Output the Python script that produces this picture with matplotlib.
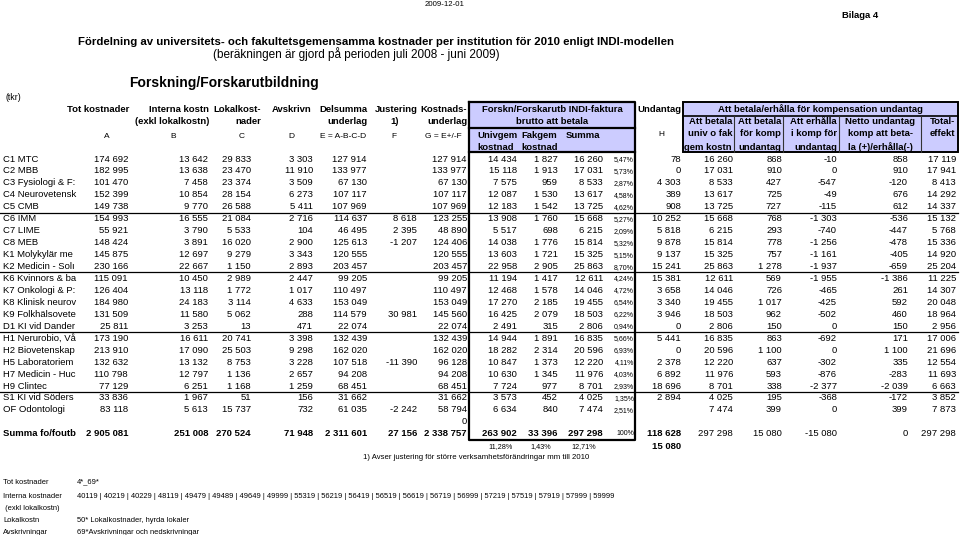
import numpy as np
import matplotlib
matplotlib.use('Agg')
import matplotlib.pyplot as plt
from matplotlib.patches import Rectangle

plt.rcParams['font.family'] = ['Liberation Sans', 'DejaVu Sans']

# ---- data ----
# institution names, cut off as the narrow column shows them
names = ['C1 MTC', 'C2 MBB', 'C3 Fysiologi & F:', 'C4 Neurovetensk', 'C5 CMB',
         'C6 IMM', 'C7 LIME', 'C8 MEB', 'K1 Molykylär me', 'K2 Medicin - Solı',
         'K6 Kvinnors & ba', 'K7 Onkologi & P:', 'K8 Klinisk neurov', 'K9 Folkhälsovete',
         'D1 KI vid Dander', 'H1 Nerurobio, Vå', 'H2 Biovetenskap', 'H5 Laboratoriem',
         'H7 Medicin - Huc', 'H9 Clintec', 'S1 KI vid Söders', 'OF Odontologi']
tot = [174692, 182995, 101470, 152399, 149738, 154993, 55921, 148424, 145875, 230166,
       115091, 126404, 184980, 131509, 25811, 173190, 213910, 132632, 110798, 77129, 33836, 83118]
interna = [13642, 13638, 7458, 10854, 9770, 16555, 3790, 3891, 12697, 22667,
           10450, 13118, 24183, 11580, 3253, 16611, 17090, 13132, 12797, 6251, 1967, 5613]
lokal = [29833, 23470, 23374, 28154, 26588, 21084, 5533, 16020, 9279, 1150,
         2989, 1772, 3114, 5062, 13, 20741, 25503, 8753, 1136, 1168, 51, 15737]
avskr = [3303, 11910, 3509, 6273, 5411, 2716, 104, 2900, 3343, 2893,
         2447, 1017, 4633, 288, 471, 3398, 9298, 3228, 2657, 1259, 156, 732]
delsumma = [127914, 133977, 67130, 107117, 107969, 114637, 46495, 125613, 120555, 203457,
            99205, 110497, 153049, 114579, 22074, 132439, 162020, 107518, 94208, 68451, 31662, 61035]
justering = [None, None, None, None, None, 8618, 2395, -1207, None, None,
             None, None, None, 30981, None, None, None, -11390, None, None, None, -2242]
underlag = [127914, 133977, 67130, 107117, 107969, 123255, 48890, 124406, 120555, 203457,
            99205, 110497, 153049, 145560, 22074, 132439, 162020, 96128, 94208, 68451, 31662, 58794]
univgem = [14434, 15118, 7575, 12087, 12183, 13908, 5517, 14038, 13603, 22958,
           11194, 12468, 17270, 16425, 2491, 14944, 18282, 10847, 10630, 7724, 3573, 6634]
fakgem = [1827, 1913, 959, 1530, 1542, 1760, 698, 1776, 1721, 2905,
          1417, 1578, 2185, 2079, 315, 1891, 2314, 1373, 1345, 977, 452, 840]
summa = [16260, 17031, 8533, 13617, 13725, 15668, 6215, 15814, 15325, 25863,
         12611, 14046, 19455, 18503, 2806, 16835, 20596, 12220, 11976, 8701, 4025, 7474]
andel = [5.47, 5.73, 2.87, 4.58, 4.62, 5.27, 2.09, 5.32, 5.15, 8.70,
         4.24, 4.72, 6.54, 6.22, 0.94, 5.66, 6.93, 4.11, 4.03, 2.93, 1.35, 2.51]
undantag = [78, 0, 4303, 389, 908, 10252, 5818, 9878, 9137, 15241,
            15381, 3658, 3340, 3946, 0, 5441, 0, 2378, 6892, 18696, 2894, None]
bet_univ = summa
bet_komp = [868, 910, 427, 725, 727, 768, 293, 778, 757, 1278,
            569, 726, 1017, 962, 150, 863, 1100, 637, 593, 338, 195, 399]
erhalla = [-10, 0, -547, -49, -115, -1303, -740, -1256, -1161, -1937,
           -1955, -465, -425, -502, 0, -692, 0, -302, -876, -2377, -368, 0]
netto = [858, 910, -120, 676, 612, -536, -447, -478, -405, -659,
         -1386, 261, 592, 460, 150, 171, 1100, 335, -283, -2039, -172, 399]
total = [17119, 17941, 8413, 14292, 14337, 15132, 5768, 15336, 14920, 25204,
         11225, 14307, 20048, 18964, 2956, 17006, 21696, 12554, 11693, 6663, 3852, 7873]

summa_rad = [2905081, 251008, 270524, 71948, 2311601, 27156, 2338757, 263902, 33396, 297298]
summa_rad_h = [118628, 297298, 15080, -15080, 0, 297298]
andel_tot = [11.28, 1.43, 12.71]
undantag_komp = 15080

legend_labels = ['Tot kostnader', 'Interna kostnader', ' (exkl lokalkostn)', 'Lokalkostn', 'Avskrivningar']
legend_texts = ['4*_69*',
                '40119 | 40219 | 40229 | 48119 | 49479 | 49489 | 49649 | 49999 | 55319 | 56219 | '
                '56419 | 56519 | 56619 | 56719 | 56999 | 57219 | 57519 | 57919 | 57999 | 59999',
                '', '50* Lokalkostnader, hyrda lokaler', '69*Avskrivningar och nedskrivningar']


def fmt(v):
    if v is None:
        return ''
    return '{:,}'.format(v).replace(',', ' ')


def pct(v):
    return ('%.2f%%' % v).replace('.', ',')


fig = plt.figure(figsize=(9.6, 5.35), dpi=100)
ax = fig.add_axes([0, 0, 1, 1])
ax.set_xlim(0, 960)
ax.set_ylim(535, 0)
ax.axis('off')

FS = 6.8
LAV = '#ccccff'


def txt(x, y, s, ha='left', size=FS, bold=False, color='black'):
    return ax.text(x, y, s, ha=ha, va='center', fontsize=size, color=color,
                   fontweight='bold' if bold else 'normal')


# titles
txt(445, 5, '2009-12-01', ha='center', size=5.6)
txt(860, 15, 'Bilaga 4', ha='center', size=6.8, bold=True)
txt(376, 42, 'Fördelning av universitets- och fakultetsgemensamma kostnader per institution '
    'för 2010 enligt INDI-modellen', ha='center', size=8.2, bold=True)
txt(356, 54, '(beräkningen är gjord på perioden juli 2008 - juni 2009)', ha='center', size=8.5)
txt(224, 83, 'Forskning/Forskarutbildning', ha='center', size=10, bold=True)
txt(6, 98, '(tkr)', size=6.3)

# left header
y1, y2, y3 = 109, 122, 136
for x, a, b in [(129, 'Tot kostnader', ''), (209, 'Interna kostn', '(exkl lokalkostn)'),
                (261, 'Lokalkost-', 'nader'), (312, 'Avskrivn', ''),
                (367, 'Delsumma', 'underlag'), (418, 'Justering', ''), (467, 'Kostnads-', 'underlag')]:
    txt(x, y1, a, ha='right', bold=True)
    if b:
        txt(x, y2, b, ha='right', bold=True)
txt(395, y2, '1)', ha='center', bold=True)
for x, s in [(107, 'A'), (173, 'B'), (242, 'C'), (291, 'D'), (343, 'E = A-B-C-D'),
             (394, 'F'), (443, 'G = E+/-F')]:
    txt(x, y3, s, ha='center', size=6.0)

# box 1 header
ax.add_patch(Rectangle((469, 102), 166, 50, fc=LAV, ec='none'))
txt(552, 110, 'Forskn/Forskarutb INDI-faktura', ha='center', bold=True)
txt(552, 122, 'brutto att betala', ha='center', bold=True)
txt(477, 135, 'Univgem', bold=True)
txt(521, 135, 'Fakgem', bold=True)
txt(566, 135, 'Summa', bold=True)
txt(477, 147, 'kostnad', bold=True)
txt(521, 147, 'kostnad', bold=True)
ax.plot([469, 635], [127.5, 127.5], color='black', lw=1.6)
ax.plot([469, 635], [152, 152], color='black', lw=1.6)
ax.plot([469, 635, 635, 469, 469], [102, 102, 440, 440, 102], color='black', lw=1.6)

txt(681, 109, 'Undantag', ha='right', bold=True)
txt(661, 135, 'H', ha='center', size=6.0)

# box 2 header
ax.add_patch(Rectangle((683, 102), 275, 50, fc=LAV, ec='black', lw=1.4))
ax.plot([683, 958], [116, 116], color='black', lw=1.2)
for x in [734, 783, 839, 921]:
    ax.plot([x, x], [116, 152], color='#333333', lw=0.8)
txt(820, 109, 'Att betala/erhålla för kompensation undantag', ha='center', bold=True)
for x, lines, ha in [(732, ['Att betala', 'univ o fak', 'gem kostn'], 'right'),
                     (781, ['Att betala', 'för komp', 'undantag'], 'right'),
                     (837, ['Att erhålla', 'i komp för', 'undantag'], 'right'),
                     (880, ['Netto undantag', 'komp att beta-', 'la (+)/erhålla(-)'], 'center'),
                     (955, ['Total-', 'effekt', ''], 'right')]:
    for yy, s in zip([122, 134, 147], lines):
        if s:
            txt(x, yy, s, ha=ha, bold=True)

# data rows
row_y = 159 + np.arange(len(names)) * 11.95
colx = [128, 208, 251, 313, 367, 417, 467, 517, 558, 603, 681, 733, 782, 837, 908, 956]
cols = [tot, interna, lokal, avskr, delsumma, justering, underlag, univgem, fakgem, summa,
        undantag, bet_univ, bet_komp, erhalla, netto, total]
for i, y in enumerate(row_y):
    txt(3, y, names[i])
    for x, c in zip(colx, cols):
        txt(x, y, fmt(c[i]), ha='right')
    txt(634, y + 0.5, pct(andel[i]), ha='right', size=5.0)

for i in [5, 10, 15, 20]:
    ax.plot([0, 958], [row_y[i] - 6.2] * 2, color='black', lw=0.9)

# zero row, sums
y0 = row_y[-1] + 12
txt(467, y0, '0', ha='right')
ys = y0 + 11.5
txt(3, ys, 'Summa fo/foutb', bold=True)
for x, v in zip(colx[:10], summa_rad):
    txt(x, ys, fmt(v), ha='right', bold=True)
txt(634, ys + 0.5, '100%', ha='right', size=5.0)
for k, (x, v) in enumerate(zip(colx[10:], summa_rad_h)):
    txt(x, ys, fmt(v), ha='right', bold=(k == 0))
yp = ys + 13.5
for x, v in zip([513, 551, 596], andel_tot):
    txt(x, yp, pct(v), ha='right', size=5.2)
txt(681, yp, fmt(undantag_komp), ha='right', bold=True)
txt(363, yp + 11, '1) Avser justering för större verksamhetsförändringar mm till 2010', size=5.6)

# legend at bottom
for yy, a, b in zip([482, 496, 508, 520, 532], legend_labels, legend_texts):
    txt(3, yy, a, size=5.4)
    if b:
        txt(77, yy, b, size=5.4)

fig.savefig('out.png', dpi=100)
